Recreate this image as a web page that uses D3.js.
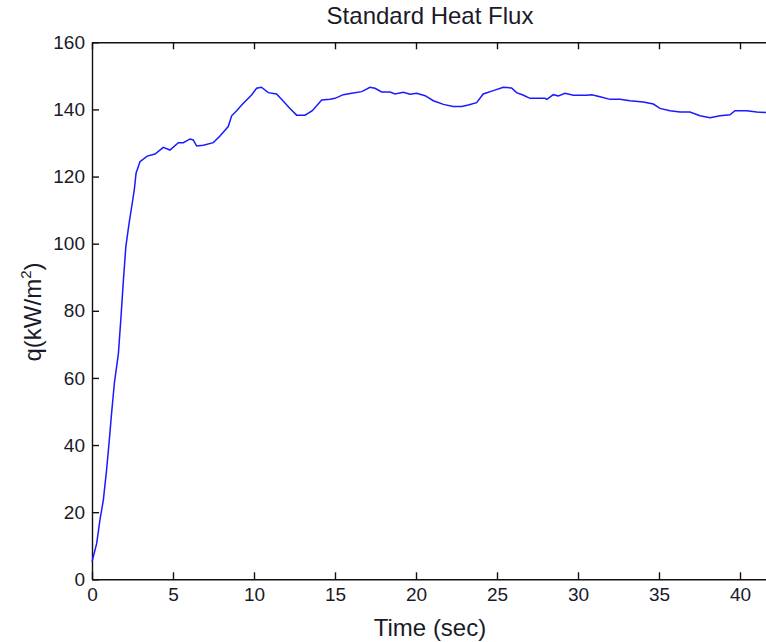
<!DOCTYPE html>
<html>
<head>
<script src="https://cdn.jsdelivr.net/npm/d3@7"></script>
<style>
  html, body { margin: 0; padding: 0; background: #fff; }
  text { font-family: "Liberation Sans", Arial, sans-serif; fill: #1a1a2a; }
</style>
</head>
<body>
<script>
// readings from the trace
var time = [0, 0.29, 0.49, 0.7, 0.9, 1.05, 1.21, 1.38, 1.63, 1.79, 1.94, 2.09, 2.29, 2.45, 2.61, 2.72, 2.96, 3.41, 3.89, 4.4,
  4.81, 5.33, 5.64, 6.05, 6.25, 6.46, 6.87, 7.49, 7.9, 8.41, 8.62, 8.93, 9.24, 9.85, 10.16, 10.46, 10.88, 11.39, 11.7, 12.22,
  12.63, 13.15, 13.6, 14.18, 14.69, 15.0, 15.51, 16.03, 16.65, 17.16, 17.47, 17.88, 18.4, 18.7, 19.22, 19.63, 20.04, 20.56, 21.07, 21.69,
  22.3, 22.82, 23.23, 23.74, 24.15, 24.77, 25.39, 25.9, 26.21, 26.6, 27.04, 27.96, 28.07, 28.48, 28.78, 29.2, 29.71, 30.54, 30.85, 31.36,
  31.98, 32.59, 33.21, 34.03, 34.65, 35.06, 35.68, 36.3, 36.91, 37.53, 38.15, 38.77, 39.38, 39.69, 40.41, 41.03, 41.6];
var heatFlux = [5.2, 10.7, 17.7, 23.6, 32.6, 40.5, 49.5, 58.4, 67.3, 78.2, 89.2, 99.1, 106.1, 111, 116, 121, 124.4, 126.1, 126.7, 128.7,
  127.9, 130.1, 130.1, 131.2, 130.9, 129.1, 129.3, 130.1, 132.1, 134.9, 138.1, 139.6, 141.3, 144.3, 146.3, 146.6, 145, 144.6, 143, 140.3,
  138.3, 138.3, 139.6, 142.8, 143, 143.3, 144.4, 144.8, 145.3, 146.6, 146.3, 145.2, 145.2, 144.6, 145.1, 144.5, 144.8, 144.1, 142.6, 141.5,
  140.9, 140.9, 141.3, 142, 144.6, 145.6, 146.6, 146.4, 145, 144.3, 143.3, 143.3, 143.0, 144.4, 144, 144.8, 144.2, 144.2, 144.4, 143.8,
  143, 143, 142.6, 142.2, 141.6, 140.3, 139.6, 139.2, 139.2, 138.1, 137.5, 138.1, 138.4, 139.6, 139.6, 139.2, 139.1];
var xTicks = [0, 5, 10, 15, 20, 25, 30, 35, 40];
var yTicks = [0, 20, 40, 60, 80, 100, 120, 140, 160];

var w = 766, h = 642;
var padL = 92, padT = 42.3, padB = 579.3;
var padR = padL + 42 * 16.2;

var svg = d3.select("body").append("svg").attr("width", w).attr("height", h);

var x = d3.scaleLinear().domain([0, 42]).range([padL, padR]);
var y = d3.scaleLinear().domain([0, 160]).range([padB, padT]);

//axes, ticks pointing inside
svg.append("g").attr("transform", "translate(0," + padB + ")")
  .call(d3.axisBottom(x).tickValues(xTicks).tickSizeInner(-7).tickSizeOuter(0).tickPadding(8));
svg.append("g").attr("transform", "translate(0," + padT + ")")
  .call(d3.axisTop(x).tickValues(xTicks).tickSizeInner(-7).tickSizeOuter(0).tickFormat(""));
svg.append("g").attr("transform", "translate(" + padL + ",0)")
  .call(d3.axisLeft(y).tickValues(yTicks).tickSizeInner(-7).tickSizeOuter(0).tickPadding(7));

svg.selectAll(".domain").attr("stroke", "#111").attr("stroke-width", 1.4);
svg.selectAll(".tick line").attr("stroke", "#111").attr("stroke-width", 1.4);
svg.selectAll(".tick text").attr("font-size", "19px").attr("fill", "#1a1a2a")
  .attr("font-family", "'Liberation Sans', Arial, sans-serif");

//the trace
var pts = time.map(function(t, i){ return [t, heatFlux[i]]; });
var line = d3.line().x(function(d){ return x(d[0]); }).y(function(d){ return y(d[1]); });
svg.append("path").datum(pts)
  .attr("d", line)
  .attr("fill", "none")
  .attr("stroke", "#1a1aff")
  .attr("stroke-width", 1.5);

//labels
svg.append("text").attr("x", 430).attr("y", 24).attr("text-anchor", "middle")
  .attr("font-size", "24px").text("Standard Heat Flux");
svg.append("text").attr("x", 430).attr("y", 636).attr("text-anchor", "middle")
  .attr("font-size", "24px").text("Time (sec)");

var yl = svg.append("text").attr("transform", "translate(41,312) rotate(-90)")
  .attr("text-anchor", "middle").attr("font-size", "24px");
yl.append("tspan").text("q(kW/m");
yl.append("tspan").attr("font-size", "15px").attr("dy", -10).text("2");
yl.append("tspan").attr("dy", 10).text(")");
</script>
</body>
</html>
